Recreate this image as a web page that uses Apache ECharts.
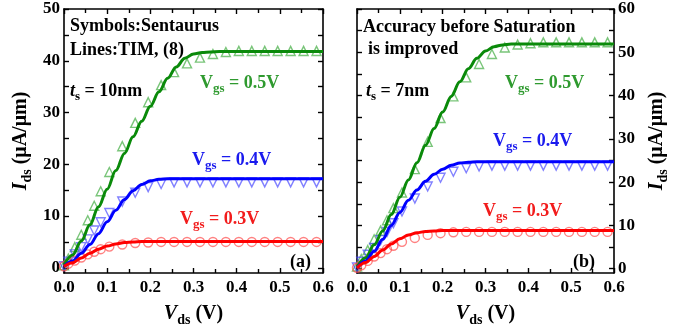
<!DOCTYPE html>
<html><head><meta charset="utf-8">
<script src="https://cdn.jsdelivr.net/npm/echarts@6/dist/echarts.min.js"></script>
<style>html,body{margin:0;padding:0;background:#fff}#c{width:688px;height:335px}</style>
</head><body><div id="c"></div>
<script>
// ---- data ----
const vdsLine = [0,0.02,0.04,0.06,0.08,0.10,0.12,0.14,0.16,0.18,0.20,0.22,0.24,0.26,0.28,0.30,0.32,0.34,0.36,0.38,0.40,0.42,0.44,0.46,0.48,0.50,0.52,0.54,0.56,0.58,0.60];
const vdsSim = [0,0.01,0.025,0.04,0.055,0.07,0.085,0.105,0.135,0.165,0.195,0.225,0.255,0.285,0.315,0.345,0.375,0.405,0.435,0.465,0.495,0.525,0.555,0.585];

// (a) ts = 10nm, TIM lines
const a_line05 = [0.6,2.5,5.2,8.3,11.8,15.2,18.8,22.1,25.3,28.3,31.2,34.0,36.6,38.8,40.5,41.3,41.6,41.7,41.8,41.8,41.8,41.8,41.8,41.8,41.8,41.8,41.8,41.8,41.8,41.8,41.8];
const a_line04 = [0.3,1.3,2.8,4.5,6.6,8.9,11.1,13.2,14.9,16.1,16.8,17.1,17.2,17.2,17.2,17.2,17.2,17.2,17.2,17.2,17.2,17.2,17.2,17.2,17.2,17.2,17.2,17.2,17.2,17.2,17.2];
const a_line03 = [0.3,1.0,1.9,2.8,3.6,4.2,4.6,4.9,5.0,5.1,5.1,5.1,5.1,5.1,5.1,5.1,5.1,5.1,5.1,5.1,5.1,5.1,5.1,5.1,5.1,5.1,5.1,5.1,5.1,5.1,5.1];
// (a) Sentaurus symbols
const a_sim05 = [0.5,1.8,4.0,6.4,9.2,12.0,14.8,18.5,23.5,28.0,32.0,35.3,37.8,39.5,40.6,41.3,41.7,41.9,41.9,41.9,41.9,41.9,41.9,41.9];
const a_sim04 = [0.3,1.2,2.6,4.0,5.5,7.2,8.8,10.6,12.8,14.5,15.6,16.2,16.5,16.5,16.5,16.5,16.5,16.5,16.5,16.5,16.5,16.5,16.5,16.5];
const a_sim03 = [0.3,0.8,1.4,2.0,2.6,3.1,3.6,4.1,4.5,4.8,4.9,5.0,5.0,5.0,5.0,5.0,5.0,5.0,5.0,5.0,5.0,5.0,5.0,5.0];

// (b) ts = 7nm, TIM lines
const b_line05 = [0.3,2.5,5.5,8.7,12.5,16.5,20.5,24.5,28.5,32.4,36.2,39.8,43.2,46.2,48.6,50.3,51.3,51.7,51.9,51.9,51.9,51.9,51.9,51.9,51.9,51.9,51.9,51.9,51.9,51.9,51.9];
const b_line04 = [0.2,1.8,4.0,6.8,10.0,13.0,15.8,18.2,20.2,21.8,23.0,23.9,24.4,24.6,24.7,24.7,24.7,24.7,24.7,24.7,24.7,24.7,24.7,24.7,24.7,24.7,24.7,24.7,24.7,24.7,24.7];
const b_line03 = [0.2,1.4,2.8,4.3,5.7,6.9,7.8,8.3,8.6,8.7,8.8,8.8,8.8,8.8,8.8,8.8,8.8,8.8,8.8,8.8,8.8,8.8,8.8,8.8,8.8,8.8,8.8,8.8,8.8,8.8,8.8];
// (b) Sentaurus symbols
const b_sim05 = [0.5,2.2,4.3,6.8,8.8,11.2,14.0,17.6,23.0,29.3,34.8,39.8,44.2,47.3,49.6,51.1,51.8,52.1,52.3,52.3,52.3,52.3,52.3,52.3];
const b_sim04 = [0.3,1.6,3.2,4.8,6.6,8.5,10.5,13.2,16.2,19.0,21.0,22.4,23.2,23.6,23.8,23.8,23.8,23.8,23.8,23.8,23.8,23.8,23.8,23.8];
const b_sim03 = [0.2,0.8,1.8,2.8,3.6,4.5,5.3,6.2,7.1,7.8,8.2,8.4,8.5,8.5,8.5,8.5,8.5,8.5,8.5,8.5,8.5,8.5,8.5,8.5];

const xTicks = [0,0.1,0.2,0.3,0.4,0.5,0.6];
const aYLabels = [0,10,20,30,40,50];
const aYTicks = [0,5,10,15,20,25,30,35,40,45,50];
const bYLabels = [0,10,20,30,40,50,60];
const bYTicks = [0,5,10,15,20,25,30,35,40,45,50,55,60];

// ---- style ----
const FONT = '"Liberation Serif","Times New Roman",serif';
const C = {
  g: '#0a8a0a', gm: 'rgba(60,170,60,0.85)', gt: '#2f9a2f',
  b: '#0000ff', bm: 'rgba(70,70,255,0.85)', bt: '#1a1aee',
  r: '#ff0000', rm: 'rgba(255,70,70,0.85)', rt: '#f21c1c'
};
const zip = (xs, ys) => xs.map((x, i) => [x, ys[i]]);

const axisLine = { show: true, onZero: false, lineStyle: { color: '#000', width: 1.6 } };
const labelStyle = { fontFamily: FONT, fontWeight: 'bold', fontSize: 17, color: '#000' };
const nameRich = {
  i: { fontFamily: FONT, fontWeight: 'bold', fontStyle: 'italic', fontSize: 20, lineHeight: 26, color: '#000' },
  s: { fontFamily: FONT, fontWeight: 'bold', fontSize: 14, lineHeight: 14, verticalAlign: 'bottom', color: '#000' },
  n: { fontFamily: FONT, fontWeight: 'bold', fontSize: 20, lineHeight: 26, color: '#000' }
};

function xAx(grid, pos, withLabels) {
  return {
    type: 'value', gridIndex: grid, position: pos, min: 0, max: 0.6, interval: 0.1,
    axisLine, splitLine: { show: false },
    axisTick: { show: true, inside: true, length: 5, lineStyle: { color: '#000', width: 1.4 } },
    minorTick: { show: true, splitNumber: 2, length: 4, lineStyle: { color: '#000', width: 1.4 } },
    axisLabel: withLabels ? Object.assign({ show: true, margin: 6, formatter: v => v.toFixed(1), customValues: xTicks }, labelStyle) : { show: false },
    name: withLabels ? '{i|V}{s|ds}{n| (V)}' : '',
    nameLocation: 'middle', nameGap: 28,
    nameTextStyle: { rich: nameRich }
  };
}
function yAx(grid, pos, max, ticks, labels, withLabels) {
  return {
    type: 'value', gridIndex: grid, position: pos, min: -1, max: max,
    axisLine, splitLine: { show: false },
    axisTick: { show: true, inside: true, length: 5, customValues: ticks, lineStyle: { color: '#000', width: 1.4 } },
    axisLabel: withLabels ? Object.assign({ show: true, margin: 4, customValues: labels }, labelStyle) : { show: false },
    name: withLabels ? '{i|I}{s|ds}{n| (μA/μm)}' : '',
    nameLocation: 'middle', nameGap: 30, nameRotate: 90,
    nameTextStyle: { rich: nameRich }
  };
}

function lineS(xi, yi, data, color) {
  return { type: 'line', xAxisIndex: xi, yAxisIndex: yi, data, showSymbol: false, smooth: 0.35, smoothMonotone: 'x',
    lineStyle: { color, width: 3 }, itemStyle: { color }, z: 5, silent: true, animation: false };
}
function symS(xi, yi, data, color, symbol, rot) {
  return { type: 'scatter', xAxisIndex: xi, yAxisIndex: yi, data, symbol, symbolSize: 9, symbolRotate: rot || 0,
    itemStyle: { color: 'rgba(0,0,0,0)', borderColor: color, borderWidth: 1.4 }, z: 3, silent: true, animation: false };
}

const txtBase = { fontFamily: FONT, fontWeight: 'bold', fontSize: 18, fill: '#000', align: 'left', verticalAlign: 'middle' };
function plain(x, y, text, fill) {
  return { type: 'text', x, y, style: Object.assign({}, txtBase, { text, fill: fill || '#000' }) };
}
function richT(x, y, head, sub, tail, fill, italicHead) {
  const r = {
    h: { fontFamily: FONT, fontWeight: 'bold', fontStyle: italicHead ? 'italic' : 'normal', fontSize: 18, lineHeight: 24, fill },
    s: { fontFamily: FONT, fontWeight: 'bold', fontSize: 13, lineHeight: 13, verticalAlign: 'bottom', fill },
    n: { fontFamily: FONT, fontWeight: 'bold', fontSize: 18, lineHeight: 24, fill }
  };
  return { type: 'text', x, y, style: Object.assign({}, txtBase, { text: '{h|' + head + '}{s|' + sub + '}{n|' + tail + '}', rich: r, fill }) };
}

const chart = echarts.init(document.getElementById('c'), null, { renderer: 'canvas' });
chart.setOption({
  backgroundColor: '#fff',
  animation: false,
  grid: [
    { left: 64, top: 9, width: 259, height: 264 },
    { left: 357, top: 9, width: 257, height: 264 }
  ],
  xAxis: [ xAx(0, 'bottom', true), xAx(0, 'top', false), xAx(1, 'bottom', true), xAx(1, 'top', false) ],
  yAxis: [
    yAx(0, 'left', 50, aYTicks, aYLabels, true), yAx(0, 'right', 50, aYTicks, aYLabels, false),
    yAx(1, 'left', 60, bYTicks, bYLabels, false), yAx(1, 'right', 60, bYTicks, bYLabels, true)
  ],
  series: [
    symS(0, 0, zip(vdsSim, a_sim05), C.gm, 'triangle', 0),
    symS(0, 0, zip(vdsSim, a_sim04), C.bm, 'triangle', 180),
    symS(0, 0, zip(vdsSim, a_sim03), C.rm, 'circle', 0),
    lineS(0, 0, zip(vdsLine, a_line05), C.g),
    lineS(0, 0, zip(vdsLine, a_line04), C.b),
    lineS(0, 0, zip(vdsLine, a_line03), C.r),
    symS(2, 3, zip(vdsSim, b_sim05), C.gm, 'triangle', 0),
    symS(2, 3, zip(vdsSim, b_sim04), C.bm, 'triangle', 180),
    symS(2, 3, zip(vdsSim, b_sim03), C.rm, 'circle', 0),
    lineS(2, 3, zip(vdsLine, b_line05), C.g),
    lineS(2, 3, zip(vdsLine, b_line04), C.b),
    lineS(2, 3, zip(vdsLine, b_line03), C.r)
  ],
  graphic: [
    plain(70, 26, 'Symbols:Sentaurus'),
    plain(70, 50, 'Lines:TIM, (8)'),
    richT(70, 91, 't', 's', ' = 10nm', '#000', true),
    richT(200, 83, 'V', 'gs', ' = 0.5V', C.gt, false),
    richT(192, 160, 'V', 'gs', ' = 0.4V', C.bt, false),
    richT(180, 219, 'V', 'gs', ' = 0.3V', C.rt, false),
    plain(290, 262, '(a)'),
    plain(363, 27, 'Accuracy before Saturation'),
    plain(368, 49, 'is improved'),
    richT(366, 91, 't', 's', ' = 7nm', '#000', true),
    richT(505, 83, 'V', 'gs', ' = 0.5V', C.gt, false),
    richT(493, 141, 'V', 'gs', ' = 0.4V', C.bt, false),
    richT(483, 211, 'V', 'gs', ' = 0.3V', C.rt, false),
    plain(573, 262, '(b)')
  ]
});
</script></body></html>
